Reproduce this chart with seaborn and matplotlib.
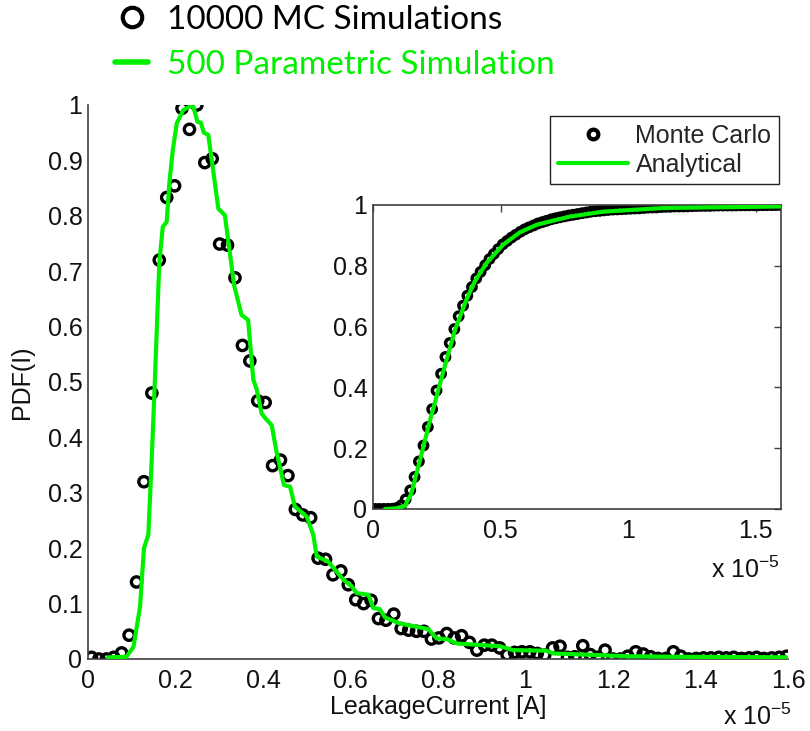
import numpy as np
import pandas as pd
import seaborn as sns
import matplotlib.pyplot as plt
from matplotlib.lines import Line2D

# Monte Carlo PDF (x in units of 1e-5 A)
mc_x = [0.008, 0.025, 0.042, 0.059, 0.077, 0.094, 0.111, 0.128, 0.146, 0.163,
        0.180, 0.198, 0.215, 0.232, 0.249, 0.267, 0.284, 0.301, 0.319, 0.336,
        0.353, 0.370, 0.388, 0.405, 0.422, 0.440, 0.457, 0.474, 0.491, 0.509,
        0.526, 0.543, 0.560, 0.578, 0.595, 0.612, 0.630, 0.647, 0.664, 0.681,
        0.699, 0.716, 0.733, 0.751, 0.768, 0.785, 0.802, 0.820, 0.837, 0.854,
        0.872, 0.889, 0.906, 0.923, 0.941, 0.958, 0.975, 0.992, 1.010, 1.027,
        1.044, 1.062, 1.079, 1.096, 1.113, 1.131, 1.148, 1.165, 1.182, 1.200,
        1.217, 1.234, 1.252, 1.269, 1.286, 1.303, 1.321, 1.338, 1.355, 1.373,
        1.390, 1.407, 1.424, 1.442, 1.459, 1.476, 1.494, 1.511, 1.528, 1.545,
        1.563, 1.580, 1.597]
mc_pdf = [0.003, 0.000, 0.000, 0.003, 0.011, 0.043, 0.139, 0.320, 0.480, 0.720,
          0.833, 0.854, 0.994, 0.956, 1.000, 0.896, 0.903, 0.749, 0.747, 0.688,
          0.566, 0.538, 0.466, 0.463, 0.349, 0.359, 0.331, 0.270, 0.260, 0.255,
          0.182, 0.180, 0.152, 0.159, 0.134, 0.107, 0.100, 0.106, 0.073, 0.070,
          0.081, 0.055, 0.052, 0.050, 0.050, 0.036, 0.038, 0.046, 0.038, 0.042,
          0.030, 0.016, 0.025, 0.025, 0.020, 0.008, 0.012, 0.013, 0.013, 0.010,
          0.007, 0.020, 0.023, 0.003, 0.004, 0.024, 0.008, 0.003, 0.016, 0.000,
          0.000, 0.005, 0.013, 0.009, 0.004, 0.001, 0.001, 0.013, 0.005, 0.000,
          0.001, 0.002, 0.002, 0.003, 0.002, 0.003, 0.001, 0.002, 0.003, 0.001,
          0.002, 0.003, 0.005]

# parametric (analytical) PDF
par_x = [0.046, 0.088, 0.104, 0.119, 0.128, 0.138, 0.146, 0.153, 0.163, 0.171,
         0.180, 0.186, 0.194, 0.203, 0.218, 0.235, 0.241, 0.250, 0.258, 0.265,
         0.275, 0.286, 0.298, 0.313, 0.325, 0.334, 0.351, 0.366, 0.378, 0.386,
         0.397, 0.405, 0.420, 0.431, 0.448, 0.462, 0.473, 0.500, 0.515, 0.523,
         0.549, 0.568, 0.584, 0.603, 0.614, 0.641, 0.652, 0.667, 0.679, 0.713,
         0.778, 0.797, 0.820, 0.843, 0.942, 0.972, 1.048, 1.064, 1.170, 1.231,
         1.346, 1.597]
par_pdf = [0.003, 0.004, 0.022, 0.094, 0.200, 0.224, 0.365, 0.504, 0.714, 0.780,
           0.789, 0.859, 0.919, 0.967, 0.991, 0.998, 0.997, 0.970, 0.968, 0.950,
           0.946, 0.883, 0.813, 0.801, 0.729, 0.675, 0.621, 0.612, 0.504, 0.486,
           0.443, 0.435, 0.422, 0.374, 0.314, 0.311, 0.275, 0.257, 0.224, 0.185,
           0.176, 0.158, 0.143, 0.131, 0.119, 0.116, 0.092, 0.090, 0.075, 0.064,
           0.054, 0.037, 0.036, 0.028, 0.023, 0.016, 0.015, 0.010, 0.007, 0.005,
           0.004, 0.003]

# analytical CDF (inset)
cdf_x = [0.047, 0.090, 0.125, 0.150, 0.184, 0.220, 0.275, 0.322, 0.367, 0.400,
         0.446, 0.511, 0.576, 0.642, 0.773, 0.903, 1.138, 1.597]
cdf_an = [0.000, 0.002, 0.010, 0.050, 0.160, 0.280, 0.450, 0.590, 0.690, 0.750,
          0.810, 0.870, 0.910, 0.935, 0.962, 0.978, 0.990, 0.995]

# Monte Carlo CDF = cumulative sum of the MC histogram
mc_cdf = np.cumsum(mc_pdf) / np.sum(mc_pdf)

main_xticks = [0, 0.2, 0.4, 0.6, 0.8, 1.0, 1.2, 1.4, 1.6]
main_xlabels = ['0', '0.2', '0.4', '0.6', '0.8', '1', '1.2', '1.4', '1.6']
main_yticks = [0, 0.1, 0.2, 0.3, 0.4, 0.5, 0.6, 0.7, 0.8, 0.9, 1.0]
main_ylabels = ['0', '0.1', '0.2', '0.3', '0.4', '0.5', '0.6', '0.7', '0.8', '0.9', '1']
ins_xticks = [0, 0.5, 1.0, 1.5]
ins_xlabels = ['0', '0.5', '1', '1.5']
ins_yticks = [0, 0.2, 0.4, 0.6, 0.8, 1.0]
ins_ylabels = ['0', '0.2', '0.4', '0.6', '0.8', '1']

GREEN = '#00f000'
AXC = '#404040'

sns.set_style("white")
plt.rcParams['font.family'] = ['Liberation Sans', 'DejaVu Sans']
plt.rcParams['mathtext.default'] = 'regular'
plt.rcParams['axes.unicode_minus'] = False

fig = plt.figure(figsize=(8.1, 7.31), dpi=100)
ax = fig.add_axes([0.1086, 0.0985, 0.8642, 0.7579])

# main PDF plot
sns.scatterplot(x=mc_x, y=mc_pdf, ax=ax, marker='o', s=55, facecolor='none',
                edgecolor='k', linewidth=2.4, zorder=2)
sns.lineplot(x=par_x, y=par_pdf, ax=ax, color=GREEN, lw=3, estimator=None,
             sort=False, zorder=3)

ax.set_xlim(0, 1.6)
ax.set_ylim(0, 1.0)
ax.set_xticks(main_xticks)
ax.set_xticklabels(main_xlabels)
ax.set_yticks(main_yticks)
ax.set_yticklabels(main_ylabels)
ax.tick_params(direction='in', length=5, width=1, color=AXC, labelsize=18,
               labelcolor='#111111')
ax.tick_params(axis='x', pad=7)
ax.tick_params(axis='y', pad=4)
for s in ['top', 'right']:
    ax.spines[s].set_visible(False)
for s in ['left', 'bottom']:
    ax.spines[s].set_color(AXC)
    ax.spines[s].set_linewidth(1.2)
ax.set_xlabel('LeakageCurrent [A]', fontsize=18, labelpad=2, color='#111111')
ax.set_ylabel('PDF(I)', fontsize=18, labelpad=10, color='#111111')
ax.text(1.006, -0.119, 'x 10$^{-5}$', transform=ax.transAxes, ha='right',
        va='baseline', fontsize=18, color='#111111')

# top legend
top_handles = [Line2D([], [], marker='o', ls='', mfc='none', mec='k', mew=3, ms=14),
               Line2D([], [], color=GREEN, lw=4)]
leg = ax.legend(top_handles, ['10000 MC Simulations', '500 Parametric Simulation'],
                loc='upper left', bbox_to_anchor=(0.142, 0.993),
                bbox_transform=fig.transFigure, frameon=False,
                prop={'family': 'Lato', 'size': 24}, handlelength=1.0,
                handletextpad=0.55, labelspacing=0.45, borderpad=0,
                borderaxespad=0)
leg.get_texts()[0].set_color('k')
leg.get_texts()[1].set_color(GREEN)

# inset CDF plot
axin = fig.add_axes([0.4605, 0.3037, 0.5037, 0.4159])
sns.scatterplot(x=mc_x, y=mc_cdf, ax=axin, marker='o', s=36, facecolor='none',
                edgecolor='k', linewidth=2.5, zorder=2)
sns.lineplot(x=cdf_x, y=cdf_an, ax=axin, color=GREEN, lw=3, estimator=None,
             sort=False, zorder=3)
axin.set_xlim(0, 1.6)
axin.set_ylim(0, 1.0)
axin.set_xticks(ins_xticks)
axin.set_xticklabels(ins_xlabels)
axin.set_yticks(ins_yticks)
axin.set_yticklabels(ins_ylabels)
axin.tick_params(direction='in', length=5, width=1, color=AXC, labelsize=18,
                 labelcolor='#111111', top=True, right=True)
axin.tick_params(axis='x', pad=7)
axin.tick_params(axis='y', pad=4)
for s in axin.spines.values():
    s.set_color(AXC)
    s.set_linewidth(1.2)
axin.text(0.9975, -0.227, 'x 10$^{-5}$', transform=axin.transAxes, ha='right',
          va='baseline', fontsize=18, color='#111111')

in_handles = [Line2D([], [], marker='o', ls='', mfc='none', mec='k', mew=3, ms=7),
              Line2D([], [], color=GREEN, lw=3)]
leg2 = axin.legend(in_handles, ['Monte Carlo', 'Analytical'], loc='upper right',
                   bbox_to_anchor=(0.9617, 0.8413), bbox_transform=fig.transFigure,
                   fancybox=False, edgecolor='#222222', framealpha=1,
                   fontsize=18, handlelength=2.8, handletextpad=0.3,
                   labelspacing=0.2, borderpad=0.3, borderaxespad=0)
leg2.get_frame().set_linewidth(1)

fig.savefig('out.png', dpi=100)
